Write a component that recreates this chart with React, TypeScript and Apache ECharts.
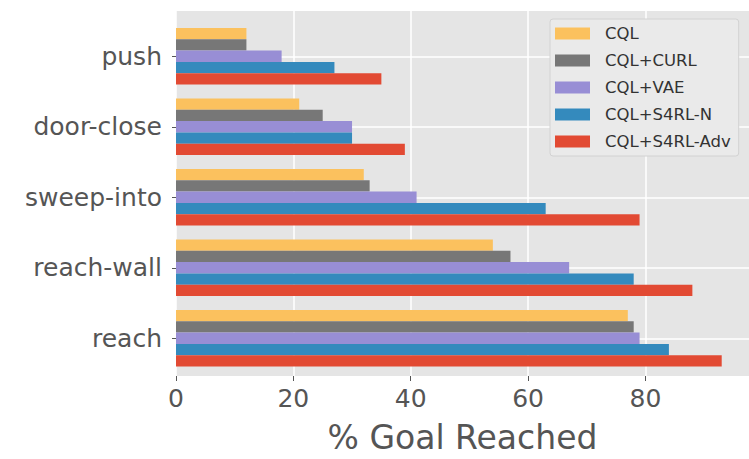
import React, { useEffect, useRef } from "react";
import * as echarts from "echarts";

const categories = ["reach", "reach-wall", "sweep-into", "door-close", "push"];
const seriesNames = ["CQL", "CQL+CURL", "CQL+VAE", "CQL+S4RL-N", "CQL+S4RL-Adv"];
const cql = [77, 54, 32, 21, 12];
const cqlCurl = [78, 57, 33, 25, 12];
const cqlVae = [79, 67, 41, 30, 18];
const cqlS4rlN = [84, 78, 63, 30, 27];
const cqlS4rlAdv = [93, 88, 79, 39, 35];
const seriesValues = [cql, cqlCurl, cqlVae, cqlS4rlN, cqlS4rlAdv];
const colors = ["#FBC15E", "#777777", "#988ED5", "#348ABD", "#E24A33"];
const xTicks = [0, 20, 40, 60, 80];
const xMax = 97.65;

const FONT = "DejaVu Sans";

export default function App() {
  const ref = useRef<HTMLDivElement>(null);
  useEffect(() => {
    if (!ref.current) return;
    const chart = echarts.init(ref.current, undefined, { renderer: "svg" });
    chart.setOption({
      animation: false,
      textStyle: { fontFamily: FONT },
      grid: [
        { left: 176, right: 0, top: 11, bottom: 76, show: true, backgroundColor: "#E5E5E5", borderWidth: 0 },
        { left: 176, right: 0, top: 21, height: 352.5 },
      ],
      legend: {
        orient: "vertical",
        left: 550,
        top: 19,
        data: seriesNames,
        icon: "rect",
        itemWidth: 35,
        itemHeight: 12,
        itemGap: 10,
        padding: [6, 8, 6, 5],
        backgroundColor: "#EAEAEA",
        borderColor: "#D2D2D2",
        borderWidth: 1,
        borderRadius: 3,
        textStyle: { fontSize: 16.5, color: "#333333", fontFamily: FONT, lineHeight: 16, padding: [0, 0, 0, 10] },
      },
      xAxis: [
        {
          gridIndex: 0,
          type: "value",
          min: 0,
          max: xMax,
          interval: 20,
          axisLine: { show: false },
          axisTick: { show: true, length: 5, customValues: xTicks, lineStyle: { color: "#555555", width: 1 } },
          axisLabel: {
            fontSize: 25,
            color: "#555555",
            margin: 10,
            fontFamily: FONT,
            customValues: xTicks,
          },
          splitLine: { show: true, lineStyle: { color: "#FFFFFF", width: 1.5 } },
          name: "% Goal Reached",
          nameLocation: "middle",
          nameGap: 45,
          nameTextStyle: { fontSize: 33, color: "#555555", fontFamily: FONT },
        },
        {
          gridIndex: 1,
          type: "value",
          min: 0,
          max: xMax,
          show: false,
          splitLine: { show: false },
        },
      ],
      yAxis: [
        {
          gridIndex: 0,
          type: "value",
          show: false,
          splitLine: { show: false },
        },
        {
          gridIndex: 1,
          type: "category",
          data: categories,
          axisLine: { show: false },
          axisTick: { show: true, alignWithLabel: true, length: 4, lineStyle: { color: "#555555" } },
          axisLabel: { fontSize: 25, color: "#555555", margin: 14, fontFamily: FONT },
          splitLine: { show: true, alignWithLabel: true, lineStyle: { color: "#FFFFFF", width: 1.5 } },
        },
      ],
      series: seriesNames.map((name, i) => ({
        name,
        type: "bar",
        xAxisIndex: 1,
        yAxisIndex: 1,
        data: seriesValues[i],
        barWidth: 11.3,
        barGap: "0%",
        itemStyle: { color: colors[i] },
      })),
    });
    return () => chart.dispose();
  }, []);
  return <div ref={ref} style={{ width: 749, height: 459, position: "absolute", left: 0, top: 0 }} />;
}
